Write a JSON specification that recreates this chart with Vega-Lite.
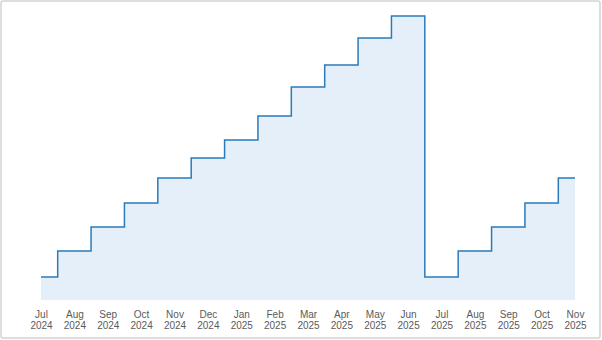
{
  "$schema": "https://vega.github.io/schema/vega-lite/v6.json",
  "width": 599,
  "height": 337,
  "autosize": {"type": "none"},
  "padding": {"left": 1, "top": 1, "right": 1, "bottom": 1},
  "background": "white",
  "data": {"values": [
    {"month": "Jul 2024", "value": 23},
    {"month": "Aug 2024", "value": 49},
    {"month": "Sep 2024", "value": 73},
    {"month": "Oct 2024", "value": 97},
    {"month": "Nov 2024", "value": 122},
    {"month": "Dec 2024", "value": 142},
    {"month": "Jan 2025", "value": 160},
    {"month": "Feb 2025", "value": 184},
    {"month": "Mar 2025", "value": 213},
    {"month": "Apr 2025", "value": 235},
    {"month": "May 2025", "value": 262},
    {"month": "Jun 2025", "value": 284},
    {"month": "Jul 2025", "value": 23},
    {"month": "Aug 2025", "value": 49},
    {"month": "Sep 2025", "value": 73},
    {"month": "Oct 2025", "value": 97},
    {"month": "Nov 2025", "value": 122}
  ]},
  "mark": {
    "type": "area",
    "interpolate": "step",
    "color": "#e4eff9",
    "opacity": 1,
    "line": {"color": "#2a7bbb", "strokeWidth": 1.5}
  },
  "encoding": {
    "x": {
      "field": "month",
      "type": "ordinal",
      "sort": null,
      "scale": {"type": "point", "range": [40, 574], "padding": 0},
      "axis": {
        "title": null,
        "labelAngle": 0,
        "labelExpr": "split(datum.label, ' ')",
        "ticks": false,
        "domain": false,
        "grid": false,
        "offset": -29,
        "labelPadding": 0,
        "labelBaseline": "top",
        "labelFont": "Liberation Sans",
        "labelFontSize": 10,
        "labelLineHeight": 11,
        "labelColor": "#5a5a5a"
      }
    },
    "y": {
      "field": "value",
      "type": "quantitative",
      "scale": {"domain": [0, 284], "range": [299, 15], "nice": false, "zero": true},
      "axis": null
    }
  },
  "config": {
    "view": {"stroke": "#d4d4d4", "strokeWidth": 1.5, "cornerRadius": 2}
  }
}
